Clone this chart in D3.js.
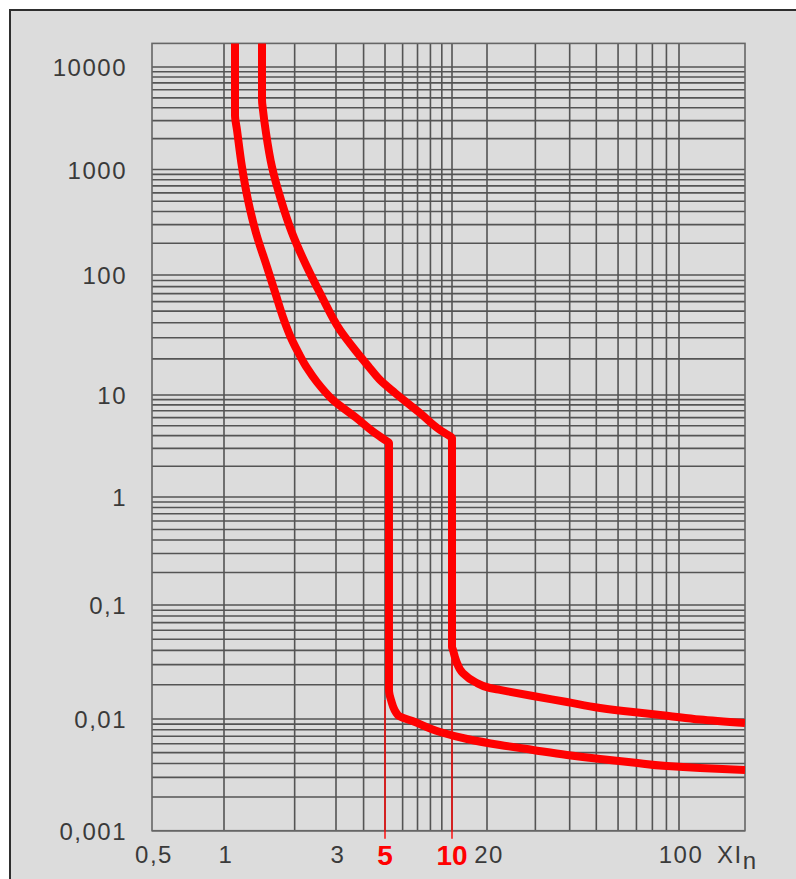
<!DOCTYPE html>
<html>
<head>
<meta charset="utf-8">
<script src="https://cdn.jsdelivr.net/npm/d3@7/dist/d3.min.js"></script>
<style>
  html, body { margin: 0; padding: 0; background: #fff; }
  svg { display: block; }
</style>
</head>
<body>
<svg id="chart" width="796" height="879"></svg>
<script>
// tick labels (comma decimals, as printed)
const xTicks = [0.5, 1, 3, 20, 100];
const xTickLabels = ["0,5", "1", "3", "20", "100"];
const xMarks = [5, 10];
const xMarkLabels = ["5", "10"];
const yTicks = [0.001, 0.01, 0.1, 1, 10, 100, 1000, 10000];
const yTickLabels = ["0,001", "0,01", "0,1", "1", "10", "100", "1000", "10000"];

// grid values
const xGrid = [1, 2, 3, 4, 5, 6, 7, 8, 9, 10, 20, 30, 40, 50, 60, 70, 80, 90, 100];
const yMantissa = [1, 2, 3, 4, 5, 6, 7, 8, 9];

// curve tripping at 5 x In  (multiple of In, seconds)
const curve5x = [1.114, 1.114, 1.136, 1.193, 1.265, 1.369, 1.525, 1.649, 1.801, 1.948, 2.087, 2.257, 2.49, 2.913, 3.66, 4.5, 5.0, 5.21,
                 5.21, 5.32, 5.72, 6.82, 8.84, 13.5, 22.3, 29.4, 39.1, 51.6, 68, 90.4, 119.5, 175];
const curve5y = [20000, 3400, 2430, 1058, 514, 250, 119, 72.2, 42.2, 28.7, 22.0, 16.8, 12.8, 8.93, 6.09, 4.24, 3.62, 3.4,
                 0.018, 0.0147, 0.0108, 0.0094, 0.00765, 0.00662, 0.00585, 0.00528, 0.00476, 0.00438, 0.00408, 0.00379, 0.00364, 0.0035];

// curve tripping at 10 x In
const curve10x = [1.452, 1.452, 1.466, 1.51, 1.601, 1.749, 1.95, 2.257, 2.564, 3.128, 3.66, 4.19, 4.795, 5.55, 7.18, 8.84, 9.6, 10,
                  10, 10.2, 10.8, 12.4, 15.8, 20.5, 22.3, 29.4, 39.1, 51.6, 68, 90.4, 119.5, 175];
const curve10y = [20000, 4760, 3800, 2270, 1058, 514, 250, 119, 70.8, 34.8, 23.7, 17.5, 13.1, 10.4, 6.66, 4.54, 4.05, 3.79,
                  0.0428, 0.0403, 0.0329, 0.0253, 0.0211, 0.0187, 0.018, 0.0159, 0.0141, 0.0125, 0.0115, 0.0107, 0.0099, 0.0092];

// where the thin marker lines start (seconds)
const markStart = [0.0147, 0.033];

const xMin = 0.5, xMax = 175, yMin = 0.001, yMax = 17000;

const svg = d3.select("#chart");

// frame
svg.append("rect")
  .attr("x", 10).attr("y", 10)
  .attr("width", 800).attr("height", 880)
  .attr("fill", "#dcdcdc")
  .attr("stroke", "#2e2e2e")
  .attr("stroke-width", 2);

// the printed paper is not a clean log grid, so the scales are
// pinned at the labelled values (piecewise log)
const x = d3.scaleLog()
  .domain([xMin, 1, 3, 5, 10, 20, 100, xMax])
  .range([152, 224, 336, 385, 452, 487, 679, 745]);

const y = d3.scaleLog()
  .domain([yMin, 0.01, 0.1, 1, 10, 100, 1000, 10000, yMax])
  .range([830.7, 719, 605, 497, 395, 275, 169.5, 67, 43.4]);

const plotL = x(xMin), plotR = x(xMax), plotT = y(yMax), plotB = y(yMin);

const yGrid = yTicks.slice(0, -1).flatMap(d => yMantissa.map(m => d * m)).concat([10000]);

const grid = svg.append("g")
  .attr("stroke", "#545454")
  .attr("stroke-width", 1.6)
  .attr("fill", "none");

grid.selectAll("line.h")
  .data(yGrid)
  .join("line")
    .attr("class", "h")
    .attr("x1", plotL).attr("x2", plotR)
    .attr("y1", d => y(d)).attr("y2", d => y(d));

grid.selectAll("line.v")
  .data(xGrid)
  .join("line")
    .attr("class", "v")
    .attr("y1", plotT).attr("y2", plotB)
    .attr("x1", d => x(d)).attr("x2", d => x(d));

grid.append("rect")
  .attr("x", plotL).attr("y", plotT)
  .attr("width", plotR - plotL).attr("height", plotB - plotT)
  .attr("stroke", "#666");

// thin red marker lines down to the 5 and 10 labels
svg.append("g")
  .attr("stroke", "#ff0000")
  .attr("stroke-width", 1.4)
  .selectAll("line")
  .data(xMarks)
  .join("line")
    .attr("x1", d => x(d)).attr("x2", d => x(d))
    .attr("y1", (d, i) => y(markStart[i]))
    .attr("y2", plotB + 8);

// curves
svg.append("clipPath").attr("id", "plot")
  .append("rect")
    .attr("x", plotL).attr("y", plotT)
    .attr("width", plotR - plotL).attr("height", plotB - plotT);

// points run top to bottom, so monotone in y keeps the bends smooth
const line = d3.line()
  .x(d => x(d[0]))
  .y(d => y(d[1]))
  .curve(d3.curveMonotoneY);

const curves = [
  d3.zip(curve5x, curve5y),
  d3.zip(curve10x, curve10y)
];

svg.append("g")
  .attr("clip-path", "url(#plot)")
  .selectAll("path")
  .data(curves)
  .join("path")
    .attr("d", line)
    .attr("fill", "none")
    .attr("stroke", "#ff0000")
    .attr("stroke-width", 8)
    .attr("stroke-linejoin", "round");

// labels
const font = "'Liberation Sans', Arial, sans-serif";

svg.append("g")
  .attr("font-family", font)
  .attr("font-size", 24)
  .attr("fill", "#3a3a3a")
  .attr("letter-spacing", "1.5px")
  .attr("text-anchor", "end")
  .selectAll("text")
  .data(yTicks)
  .join("text")
    .attr("x", 127)
    .attr("y", d => y(d) + 9)
    .text((d, i) => yTickLabels[i]);

svg.append("g")
  .attr("font-family", font)
  .attr("font-size", 24)
  .attr("fill", "#3a3a3a")
  .attr("letter-spacing", "1.5px")
  .attr("text-anchor", "middle")
  .selectAll("text")
  .data(xTicks)
  .join("text")
    .attr("x", d => x(d) + 2)
    .attr("y", 863)
    .text((d, i) => xTickLabels[i]);

svg.append("g")
  .attr("font-family", font)
  .attr("font-size", 28)
  .attr("font-weight", "bold")
  .attr("fill", "#ff0000")
  .attr("text-anchor", "middle")
  .selectAll("text")
  .data(xMarks)
  .join("text")
    .attr("x", d => x(d))
    .attr("y", 865)
    .text((d, i) => xMarkLabels[i]);

const unit = svg.append("text")
  .attr("font-family", font)
  .attr("font-size", 24)
  .attr("fill", "#3a3a3a")
  .attr("letter-spacing", "1.5px")
  .attr("x", 717)
  .attr("y", 863);
unit.append("tspan").text("XI");
unit.append("tspan").attr("dy", 6).text("n");
</script>
</body>
</html>
